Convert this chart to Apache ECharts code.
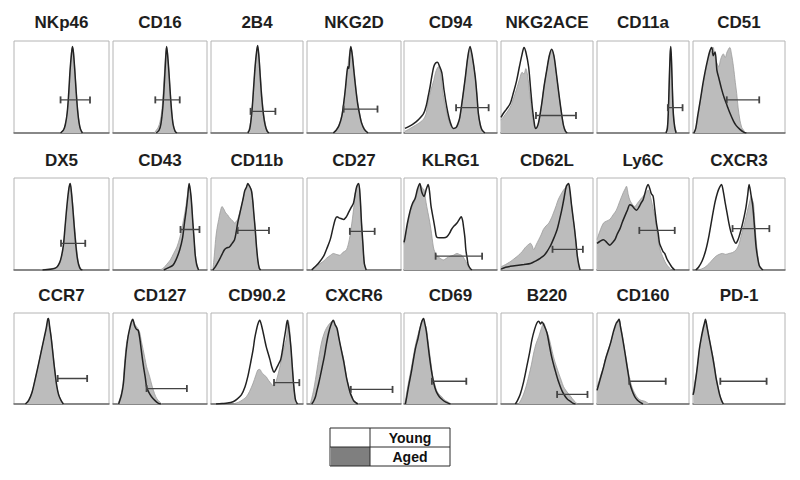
<!DOCTYPE html>
<html><head><meta charset="utf-8">
<script src="https://cdn.jsdelivr.net/npm/echarts@6/dist/echarts.min.js"></script>
<style>html,body{margin:0;padding:0;background:#fff}#c{width:800px;height:480px}</style>
</head><body><div id="c"></div>
<script>
// ---- DATA (x: % of fluorescence axis, y: % of max count) ----
const markers = ["NKp46","CD16","2B4","NKG2D","CD94","NKG2ACE","CD11a","CD51",
                 "DX5","CD43","CD11b","CD27","KLRG1","CD62L","Ly6C","CXCR3",
                 "CCR7","CD127","CD90.2","CXCR6","CD69","B220","CD160","PD-1"];
const legendLabels = ["Young","Aged"];

const NKp46_aged = [[48,0],[51,2],[53,6],[55,15],[57,33],[58.5,55],[59.5,75],[60.5,88],[61.5,93],[62.5,90],[63.5,78],[65,55],[66.5,33],[68,16],[69.5,7],[71,2],[73,0]];
const NKp46_young = [[49,0],[52,3],[54,9],[56,22],[57.5,42],[59,68],[60.5,86],[61.5,94],[62.5,88],[64,68],[65.5,44],[67,24],[68.5,11],[70,4],[72,0]];
const CD16_aged = [[44,0],[46,3],[48,6],[50,12],[52,25],[53.5,45],[55,70],[56,86],[57,93],[58,88],[59,74],[60.5,52],[62,30],[63.5,14],[65,5],[67,0]];
const CD16_young = [[46,0],[49,3],[51,10],[53,28],[54.5,52],[56,80],[57,94],[58,86],[59.5,66],[61,42],[62.5,22],[64,9],[66,2],[68,0]];
const B2B4_aged = [[39,0],[41,3],[43,12],[44.5,25],[46,45],[47.5,65],[49,82],[50.5,94],[52,86],[53.5,66],[55,45],[56.5,28],[58,15],[60,6],[62,1],[64,0]];
const B2B4_young = [[40,0],[42,4],[43.5,14],[45,30],[46.5,52],[48,73],[49.5,88],[50.7,95],[52,84],[53.5,62],[55,40],[57,20],[59,8],[61,2],[63,0]];
const NKG2D_aged = [[27,0],[30,2],[33,6],[36,15],[38,25],[40,40],[42,58],[43.5,72],[45,85],[46.6,93],[48,88],[50,70],[52,50],[54,33],[56,22],[58,12],[61,5],[64,1],[66,0]];
const NKG2D_young = [[28,0],[31,3],[34,8],[37,18],[39,32],[41,50],[42.5,66],[43.5,72],[44.5,70],[45.5,85],[46.6,94],[48,86],[50,66],[52,47],[54,31],[56,20],[58,11],[61,4],[65,0]];
const CD94_aged = [[1,2],[5,4],[10,7],[15,10],[21,15],[24,22],[26,35],[29,47],[32,57],[34,66],[37,72],[39,68],[42,43],[45,26],[48,14],[51,7],[53,5],[56,6],[58,10],[60,17],[63,38],[66,61],[68.5,82],[71,93],[73.5,82],[76.6,61],[78.5,40],[80,21],[82,9],[84,3],[87,0]];
const CD94_young = [[1,5],[5,7],[10,10],[15,14],[21,21],[24,30],[26,40],[28,50],[30,62],[32,72],[34,76],[36,77],[38,73],[40.6,66],[43,47],[46,28],[48.5,16],[51,8],[53,5],[56,6],[58,10],[60,17],[63,38],[66,61],[68.5,82],[71,94],[73.5,83],[76.6,61],[78.5,40],[80,21],[82,9],[84,3],[87,0]];
const NKG2ACE_aged = [[0,14],[3,18],[6,22],[10,28],[13,36],[17,48],[20,58],[23,66],[25,64],[27,70],[29,62],[31,45],[33,28],[35,13],[37,6],[39,6],[41,12],[44,30],[47,52],[50,70],[52.5,84],[55,90],[57.5,84],[60,66],[63,42],[66,20],[68,8],[70,2],[72,0]];
const NKG2ACE_young = [[0,17],[3,22],[6,26],[10,32],[13,42],[17,57],[20,72],[23,86],[25,93],[27,88],[30,72],[32,50],[34,28],[36,12],[37.5,5],[39,6],[41,12],[44,30],[47,52],[50,70],[52.5,84],[55,91],[57.5,84],[60,66],[63,42],[66,20],[68,8],[70,2],[72,0]];
const CD11a_aged = [[74.5,0],[76,4],[77,15],[78,40],[79,75],[80,93],[81,80],[82,50],[83,25],[84.5,8],[86,2],[87.5,0]];
const CD11a_young = [[75,0],[76.5,5],[77.5,22],[78.5,55],[79.5,85],[80.2,94],[81,78],[82,45],[83,20],[84.5,6],[86,0]];
const CD51_aged = [[1,0],[2.5,3],[5,15],[8,35],[10.5,50],[13,64],[16,78],[19,90],[21,86],[22,93],[24,82],[26,76],[28,72],[30,80],[33,86],[35,82],[37,88],[40,93],[42,85],[44,72],[46,55],[47.5,43],[49,28],[51,14],[53,6],[55,3],[57,0]];
const CD51_young = [[1,0],[3,5],[5,18],[8,36],[10.5,52],[13,66],[16,80],[18,88],[19.5,92],[20.5,93],[22,84],[24,88],[26,68],[28,60],[31,48],[34,38],[37,30],[40,22],[44,13],[47,8],[51,4],[55,1],[58,0]];

const DX5_aged = [[27,0],[35,1],[42,2],[46,4],[49,10],[51,18],[52.5,30],[54,48],[55.5,65],[57,80],[58,89],[59,93],[60.5,85],[62,70],[63.5,50],[65,33],[66.5,18],[68,7],[70,2],[72,0]];
const DX5_young = [[30,0],[40,1],[45,3],[48,8],[50,15],[52,27],[53.5,44],[55,62],[56.5,78],[58,90],[59.2,94],[60.5,84],[62,66],[63.5,46],[65,28],[66.5,14],[68,6],[70,1],[72,0]];
const CD43_aged = [[50,0],[53.5,2],[57,6],[61,11],[64.5,18],[68,25],[71,35],[73,44],[75.5,57],[77.5,69],[79.5,84],[81,93],[83,80],[85,51],[86.5,32],[87.5,18],[89,7],[90.5,2],[92,0]];
const CD43_young = [[54,0],[58,2],[63.6,5],[67,11],[71,22],[74,35],[76,51],[78,66],[79.5,80],[81,94],[83,80],[85,51],[86.5,30],[87.5,16],[89,6],[91,0]];
const CD11b_aged = [[2,0],[3.5,15],[5,33],[6.5,45],[8.4,55],[10,63],[12,69],[13.5,67],[14.6,65],[16,62],[18,60],[20,57],[22,55],[24,53],[25.6,51],[27.5,53],[29,55],[31,62],[33,69],[35,78],[36.6,84],[38.5,89],[40,93],[42,91],[44,87],[45.5,75],[46.5,62],[48,45],[49.5,25],[51,10],[52.5,2],[54,0]];
const CD11b_young = [[2,0],[5,4],[9,11],[12,17],[14.6,22],[17,24],[20,25],[23,29],[25.6,33],[27.5,42],[29,51],[31,60],[33,69],[35,78],[36.6,86],[38.5,90],[40,94],[42,91],[44,86],[45.5,74],[46.5,62],[48,45],[49.5,25],[51,10],[52.5,2],[54,0]];
const CD27_aged = [[3.5,0],[8,3],[14,7],[18,10],[21,13],[25,16],[28,18],[31,17],[35,16],[38,19],[42,22],[45,33],[47.7,51],[50,70],[52,87],[55,93],[56.5,80],[58,51],[59.5,28],[61,7],[63,0]];
const CD27_young = [[5,0],[7,2],[12,7],[17.7,15],[21,23],[24.7,33],[27.5,45],[30,55],[32,58],[33.6,57],[36,56],[39,55],[42,58],[44,62],[47,68],[49.5,73],[51.5,84],[53,91],[55,94],[56.5,80],[58,51],[59.5,28],[61,7],[63,0]];
const KLRG1_aged = [[0,28],[1,33],[3.5,48],[6.5,62],[9,70],[12,76],[14.5,85],[17,93],[19,90],[21.6,87],[23,78],[24.5,69],[27,56],[29,44],[31.6,25],[33,20],[35,16],[38.5,13],[42.4,11],[46,13],[49.6,15],[53,16],[57,18],[59.5,17],[62,16],[65,12],[67.6,7],[69.5,3],[71,0]];
const KLRG1_young = [[0,30],[1,35],[3.5,50],[6.5,64],[9,72],[12,78],[14.5,88],[17,94],[19,85],[21.6,80],[24,88],[26,93],[27.5,85],[29,70],[31.6,55],[33.5,44],[35,36],[38,35],[40.6,35],[43,35],[46,36],[49,40],[51,44],[54,48],[57,51],[59.5,55],[61.5,58],[63,54],[64,47],[65.5,35],[66.5,22],[68,12],[69,6],[71,2],[73,0]];
const CD62L_aged = [[0,3],[1,4],[5,6],[10,9],[14,12],[19,16],[23,20],[26,24],[29,27],[32,29],[34,26],[35.5,22],[38,27],[41,33],[43.5,38],[46,44],[49,48],[52,51],[55,57],[57,62],[60,70],[62,76],[65,82],[68,87],[70.5,90],[73,93],[74.5,88],[76,76],[78,60],[80,44],[81.5,30],[83,15],[84.5,6],[85.5,0]];
const CD62L_young = [[0,1],[5,3],[10,4],[17,5],[25,6],[32,7],[38,10],[43,13],[47,16],[50,20],[53,25],[55,29],[58,36],[61,44],[63.5,54],[66,65],[68.5,78],[71,91],[73.5,94],[75,86],[76.5,72],[78.5,56],[80,44],[81.5,30],[83,15],[84.5,6],[86,0]];
const Ly6C_aged = [[0,33],[3,42],[7,51],[10,53],[14,55],[17.5,60],[21,65],[24.5,74],[28.5,84],[30.5,88],[32,91],[34,82],[35.7,76],[38,72],[41,69],[43.5,72],[46.6,76],[49,79],[52,82],[54,85],[55.6,87],[57.5,82],[59,76],[61,67],[63,58],[65,44],[66.5,33],[68,25],[70,18],[72.5,12],[75,7],[78,3],[81,0]];
const Ly6C_young = [[0,29],[3,31],[7,33],[10.5,30],[14,27],[17,30],[19.5,33],[22,39],[25,45],[27.5,52],[30,58],[33,65],[35.7,71],[38,70],[40.5,67],[43,65],[46,69],[48,73],[50,76],[52,83],[54,90],[55.6,93],[57.5,88],[59,83],[61,80],[62.8,66],[64.6,51],[66.5,40],[68,29],[70,24],[71.8,20],[73.6,18],[76,12],[79,7],[81.5,3],[84.5,0]];
const CXCR3_aged = [[5,0],[9,1],[13,3],[17.5,7],[21,11],[25,15],[28.5,17],[32,18],[35.5,17],[39,18],[43,19],[47,22],[50,28],[52,36],[54.5,45],[57.7,58],[60,68],[62,76],[63,80],[64.5,76],[65.7,73],[67,55],[68.6,33],[70.5,15],[72,5],[74,1],[76,0]];
const CXCR3_young = [[3,0],[6,3],[10,10],[14,22],[17.5,38],[21,58],[24,74],[26.6,84],[29,90],[31,93],[33,85],[35,73],[37,62],[39,51],[41,42],[43,36],[45,31],[46.7,29],[48.5,32],[50,36],[52,43],[54,51],[56,60],[57.7,69],[59.5,82],[61,93],[63,82],[65,69],[67,45],[68.6,25],[70.5,12],[72,5],[74,2],[76,0]];

const CCR7_aged = [[11.6,0],[15,4],[18.7,12],[21.5,24],[24.6,37.5],[27,50],[29,60],[31.5,71],[34,82],[35,88],[36,94],[37.5,86],[38.7,78],[40,66],[41.5,52],[43,38],[44,26],[46,15],[48,8],[50,3],[52,0]];
const CCR7_young = [[12,0],[15.5,4],[19,13],[22,26],[25,40],[27.5,52],[29.5,62],[32,74],[34,84],[35.5,93],[36.3,94],[37.5,85],[39,74],[40.5,60],[42,45],[43.5,32],[45,20],[47,10],[49.5,4],[52,0]];
const CD127_aged = [[5,0],[8,8],[10.7,23],[12,40],[13.6,60],[15,70],[17,78],[19,86],[21,92],[23,88],[25,85],[27,82],[28.6,78],[30,70],[32,60],[34,50],[35.7,41],[37.5,35],[39,30],[41,22],[43,15],[45.5,8],[48,4],[52,0]];
const CD127_young = [[6,0],[9,10],[11,22],[12.5,41],[14,58],[16,74],[18,84],[19.5,90],[21,93],[23,86],[25,82],[26.8,81],[28.5,72],[30,60],[31.5,48],[33,37.5],[34.5,28],[35.7,19],[38,13],[41,8],[44.5,4],[48,1],[51,0]];
const CD902_aged = [[24,0],[30,2],[35,5],[38.5,8],[42,14],[45.8,23],[48.5,31],[51,37.5],[53,38],[55,35],[57.5,32],[60,30],[62.5,26],[64.8,23],[66.5,21],[68.5,19],[70.5,24],[73,33],[75.5,44],[78,56],[80,64],[81.7,71],[83,82],[84,92],[85.5,82],[86.8,63],[88.3,42],[89.7,23],[91,10],[92,4],[94,0]];
const CD902_young = [[5.5,0],[12,0.5],[18,1],[24,2.5],[28,5],[33,10],[37,19],[40,30],[43,45],[45.8,60],[47.5,72],[49.5,82],[51,88],[53,92],[55,86],[56.8,78],[58.5,70],[60,63],[62,56],[64,49],[66,41],[68.5,35],[70,37],[72,41],[74,45],[75.8,49],[77.5,58],[79.5,71],[81,80],[83,92],[85,80],[86.8,63],[88.3,42],[89.7,23],[91,10],[92,4],[94,0]];
const CXCR6_aged = [[3.5,0],[5,6],[7,15],[9,27],[10.6,37.5],[12.3,49],[14,60],[16,70],[18.4,78],[20.5,83],[23,87],[25.5,90],[27.6,92],[30,86],[32,81],[33.5,74],[35,67],[37,58],[39,49],[40.5,40],[42,30],[44,21],[46,13],[48,8],[50,4],[55,0]];
const CXCR6_young = [[5,0],[7,3],[9,8],[10.6,15],[12.3,22],[14,30],[16,40],[18.4,52],[20.5,65],[23,78],[25.5,87],[28,92],[30,87],[32,83],[33.5,75],[35,67],[37,57],[39,47],[40.5,38],[42,29],[44,20],[46,12],[48,7],[50,3],[54,0]];
const CD69_aged = [[1,0],[2.5,10],[4.7,23],[7,35],[10,52],[12.5,66],[15.5,78],[18,87],[20,93],[22,88],[23.7,85],[25.5,72],[27,60],[29,45],[31,30],[33,22],[35,15],[37.5,11],[40.6,8],[43,5],[46,3],[51,0]];
const CD69_young = [[1.5,0],[3,8],[5,20],[7.5,33],[10,48],[12.5,62],[15,72],[17,82],[19,90],[21,94],[22.5,88],[24,80],[25.5,68],[27,55],[29,40],[31,28],[33,19],[35,13],[38,8],[41,5],[45,2],[50,0]];
const B220_aged = [[19,0],[22,5],[24.6,11],[27.5,20],[30,30],[33,43],[35.5,56],[38,66],[41,74],[43.5,82],[46.4,89],[49,82],[51.8,74],[54.5,63],[57,52],[60,42],[63,33],[65.5,26],[68,19],[70.5,15],[73.6,11],[76,8],[79,4],[81,2],[83,0]];
const B220_young = [[15.6,0],[18,4],[21,11],[24.5,24],[28,41],[31,56],[33.7,71],[36.5,82],[39,89],[41,91],[43,88],[44.5,90],[47,86],[50,78],[52.5,65],[55,52],[57.5,42],[60,33],[62,26],[64.5,19],[67,13],[70,8],[72.5,5],[75.4,3],[78,1],[81,0]];
const CD160_aged = [[0,19],[2,25],[4.5,33],[7,41],[9.5,51],[12.3,60],[15,68],[17.7,78],[19.5,83],[21,87],[22.5,90],[24,92],[26,84],[27.8,74],[29.5,63],[31.4,52],[33,42],[35,30],[37,22],[39.4,15],[42,10],[44.8,6],[48,4],[52,3],[56.7,0]];
const CD160_young = [[0,15],[2,22],[4.5,31],[7,40],[9.5,50],[12.3,59],[15,68],[17.7,79],[19.5,85],[21,89],[22.5,91],[24,93],[25.5,85],[27.5,74],[29.5,62],[31.5,49],[33.5,36],[35.7,23],[38,15],[41,8],[44,4],[46.6,2],[50,0]];
const PD1_aged = [[0,12],[0.7,15],[2,24],[3.6,33],[5.5,47],[7,60],[9,71],[11,81],[12.5,88],[13.8,92],[15.5,84],[17.4,74],[19.5,63],[21.7,52],[23.5,41],[25,30],[27,20],[29,11],[31,4],[32.6,0]];
const PD1_young = [[0,10],[1,14],[2.5,24],[4,35],[5.5,48],[7,61],[9,73],[11,83],[12.5,89],[13.5,93],[15,86],[17,75],[19.5,62],[21.7,50],[23.5,39],[25,29],[27,19],[29,10],[31,4],[33,0]];

// gate bars: [start, end, height]
const gates = [[49,80,36],[45,71,36],[43,70,23.5],[39,75,26],[56,91,27.5],[38,81.5,19],[77,93,27.5],[36.7,72,36],
               [49.5,75,29],[71.8,92,44],[29,63,43],[45.6,72,42],[34,84,15],[56,89,22.5],[46,84.5,43],[43,83,45],
               [46,77,28],[35.7,78.6,17],[68.5,96,23.5],[46.6,91,16],[30,67,25],[61,94,10.5],[35,74.7,25],[29.7,80,25]];

const agedList = [NKp46_aged,CD16_aged,B2B4_aged,NKG2D_aged,CD94_aged,NKG2ACE_aged,CD11a_aged,CD51_aged,
  DX5_aged,CD43_aged,CD11b_aged,CD27_aged,KLRG1_aged,CD62L_aged,Ly6C_aged,CXCR3_aged,
  CCR7_aged,CD127_aged,CD902_aged,CXCR6_aged,CD69_aged,B220_aged,CD160_aged,PD1_aged];
const youngList = [NKp46_young,CD16_young,B2B4_young,NKG2D_young,CD94_young,NKG2ACE_young,CD11a_young,CD51_young,
  DX5_young,CD43_young,CD11b_young,CD27_young,KLRG1_young,CD62L_young,Ly6C_young,CXCR3_young,
  CCR7_young,CD127_young,CD902_young,CXCR6_young,CD69_young,B220_young,CD160_young,PD1_young];

// ---- LAYOUT ----
const colLeft = [14,113,211,307,404,501,597,693];
const colRight = [109,207,303,401,497,593,689,785];
const rowTop = [41,178,313];
const rowBottom = [133,270,404];
const titleY = [22,160,295];

const grids=[], xAxes=[], yAxes=[], series=[], graphics=[];
for (let i=0;i<24;i++){
  const r=Math.floor(i/8), c=i%8;
  grids.push({left:colLeft[c], top:rowTop[r], width:colRight[c]-colLeft[c], height:rowBottom[r]-rowTop[r],
    show:true, borderColor:'#b4b4b4', borderWidth:1, backgroundColor:'#fff'});
  xAxes.push({gridIndex:i, type:'value', min:0, max:100,
    axisLine:{show:true, onZero:false, lineStyle:{color:'#6e6e6e', width:1.5}},
    axisTick:{show:false}, axisLabel:{show:false}, splitLine:{show:false}});
  yAxes.push({gridIndex:i, type:'value', min:0, max:100, show:false, splitLine:{show:false}});
  series.push({type:'line', xAxisIndex:i, yAxisIndex:i, data:agedList[i], symbol:'none', smooth:0.3,
    lineStyle:{color:'#9c9c9c', width:0.8}, areaStyle:{color:'#bcbcbc', opacity:1}, silent:true, z:2});
  series.push({type:'line', xAxisIndex:i, yAxisIndex:i, data:youngList[i], symbol:'none', smooth:0.3,
    lineStyle:{color:'#222', width:1.5}, silent:true, z:3});
  const g=gates[i];
  series.push({type:'line', xAxisIndex:i, yAxisIndex:i, data:[[g[0],g[2]],[g[1],g[2]]],
    symbol:'rect', symbolSize:[1.8,7], showSymbol:true, itemStyle:{color:'#444'},
    lineStyle:{color:'#444', width:1.3}, silent:true, z:4});
  graphics.push({type:'text', x:(colLeft[c]+colRight[c])/2, y:titleY[r],
    style:{text:markers[i], fill:'#1e1e1e', font:'bold 17px "Liberation Sans", Arial, sans-serif',
      textAlign:'center', textVerticalAlign:'middle'}});
}
// legend table
const LX=330, LY=428, LW=120, LH=38, LD=370;
graphics.push({type:'rect', shape:{x:LX+1, y:LY+LH/2, width:LD-LX-1, height:LH/2}, style:{fill:'#7f7f7f'}});
graphics.push({type:'rect', shape:{x:LX, y:LY, width:LW, height:LH}, style:{fill:'none', stroke:'#2a2a2a', lineWidth:1}});
graphics.push({type:'line', shape:{x1:LD, y1:LY, x2:LD, y2:LY+LH}, style:{stroke:'#2a2a2a', lineWidth:1}});
graphics.push({type:'line', shape:{x1:LX, y1:LY+LH/2, x2:LX+LW, y2:LY+LH/2}, style:{stroke:'#2a2a2a', lineWidth:1}});
legendLabels.forEach((t,k)=>{
  graphics.push({type:'text', x:(LD+LX+LW)/2, y:LY+LH/4+k*LH/2+0.5,
    style:{text:t, fill:'#111', font:'bold 14px "Liberation Sans", Arial, sans-serif', textAlign:'center', textVerticalAlign:'middle'}});
});

const chart = echarts.init(document.getElementById('c'), null, {renderer:'svg'});
chart.setOption({animation:false, backgroundColor:'#fff', grid:grids, xAxis:xAxes, yAxis:yAxes, series:series, graphic:graphics});
</script></body></html>
